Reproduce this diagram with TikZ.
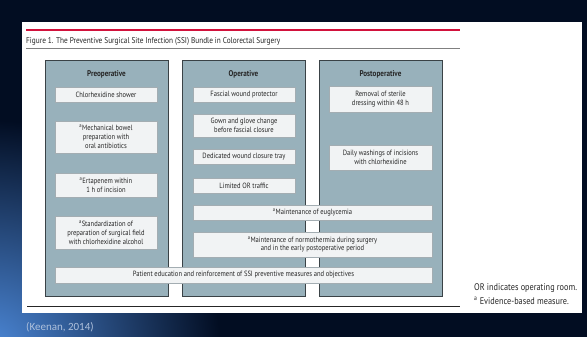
\documentclass[tikz,border=0pt]{standalone}
\usepackage{fontspec}
\setmainfont{PT Sans}[FakeStretch=0.86]
\newfontfamily\notefont{Carlito}
\usetikzlibrary{positioning}
\definecolor{navy}{HTML}{020D22}
\definecolor{slideblue}{HTML}{4C88D8}
\definecolor{jamared}{HTML}{D2123C}
\definecolor{colfill}{HTML}{98B1BB}
\definecolor{colline}{HTML}{3A4246}
\definecolor{boxfill}{HTML}{F1F3F4}
\definecolor{boxline}{HTML}{A3ADB2}
\definecolor{inktext}{HTML}{262626}
\definecolor{citecol}{HTML}{AFC1DC}
\tikzset{
  column/.style={draw=colline, fill=colfill, line width=0.9pt},
  ibox/.style={draw=boxline, fill=boxfill, line width=0.6pt, inner sep=0pt,
    align=center, text=inktext, font=\fontsize{7.6}{8.9}\selectfont},
  head/.style={text=inktext, font=\fontsize{8.3}{9}\selectfont\bfseries},
  note/.style={text=inktext, anchor=west, inner sep=0pt, font=\fontsize{9.6}{10}\selectfont},
}
\begin{document}
\begin{tikzpicture}[x=1pt, y=-1pt]
% slide background
\useasboundingbox (0,0) rectangle (587,337);
\fill[navy] (0,0) rectangle (587,337);
\begin{scope}
  \clip (0,0) rectangle (587,337);
  \shade[inner color=slideblue, outer color=navy] (-10,350) circle (230);
\end{scope}
% white figure panel
\fill[white] (22,22) rectangle (582,313);
% title rules and caption
\draw[jamared, line width=2pt] (26,30) -- (460,30);
\node[anchor=west, inner sep=0pt, text=inktext, font=\fontsize{8.5}{9}\selectfont] (title) at (26,41)
  {Figure 1. The Preventive Surgical Site Infection (SSI) Bundle in Colorectal Surgery};
\draw[gray, line width=1pt] (26,49) -- (460,49);
% the three phase columns
\draw[column] (45,60) rectangle (168,296);
\draw[column] (182,60) rectangle (305,296);
\draw[column] (319,60) rectangle (442,296);
\node[head] (hpre) at (106.5,74) {Preoperative};
\node[head] (hop) at (243.5,74) {Operative};
\node[head] (hpost) at (380.5,74) {Postoperative};
% preoperative measures
\node[ibox, minimum width=102pt, minimum height=15pt] (shower) at (106,94.5) {Chlorhexidine shower};
\node[ibox, minimum width=102pt, minimum height=32pt] (bowel) at (106,137)
  {\textsuperscript{a}Mechanical bowel\\preparation with\\oral antibiotics};
\node[ibox, minimum width=102pt, minimum height=24pt] (ertapenem) at (106,185)
  {\textsuperscript{a}Ertapenem within\\1 h of incision};
\node[ibox, minimum width=102pt, minimum height=33pt] (field) at (106,232.5)
  {\textsuperscript{a}Standardization of\\preparation of surgical field\\with chlorhexidine alcohol};
% operative measures
\node[ibox, minimum width=102pt, minimum height=15pt] (protector) at (244,94.5) {Fascial wound protector};
\node[ibox, minimum width=102pt, minimum height=23pt] (gown) at (244,125.5)
  {Gown and glove change\\before fascial closure};
\node[ibox, minimum width=102pt, minimum height=15pt] (tray) at (244,156.5) {Dedicated wound closure tray};
\node[ibox, minimum width=102pt, minimum height=15pt] (traffic) at (244,185.5) {Limited OR traffic};
% postoperative measures
\node[ibox, minimum width=103pt, minimum height=26pt] (dressing) at (380.5,99)
  {Removal of sterile\\dressing within 48 h};
\node[ibox, minimum width=103pt, minimum height=25pt] (washing) at (380.5,157.5)
  {Daily washings of incisions\\with chlorhexidine};
% measures spanning several phases
\node[ibox, minimum width=239pt, minimum height=15pt] (glucose) at (312.5,212.5)
  {\textsuperscript{a}Maintenance of euglycemia};
\node[ibox, minimum width=239pt, minimum height=25pt] (thermia) at (312.5,244.5)
  {\textsuperscript{a}Maintenance of normothermia during surgery\\and in the early postoperative period};
\node[ibox, minimum width=377pt, minimum height=16pt] (education) at (243.5,275)
  {Patient education and reinforcement of SSI preventive measures and objectives};
% closing rule and notes
\draw[inktext, line width=0.8pt] (27,306) -- (460,306);
\node[note] (orlabel) at (474,288) {OR indicates operating room.};
\node[note] (evidence) at (474,301) {\textsuperscript{a} Evidence-based measure.};
\node[anchor=west, inner sep=0pt, text=citecol, font=\notefont\fontsize{11}{12}\selectfont] (cite) at (26,327) {(Keenan, 2014)};
\end{tikzpicture}
\end{document}
